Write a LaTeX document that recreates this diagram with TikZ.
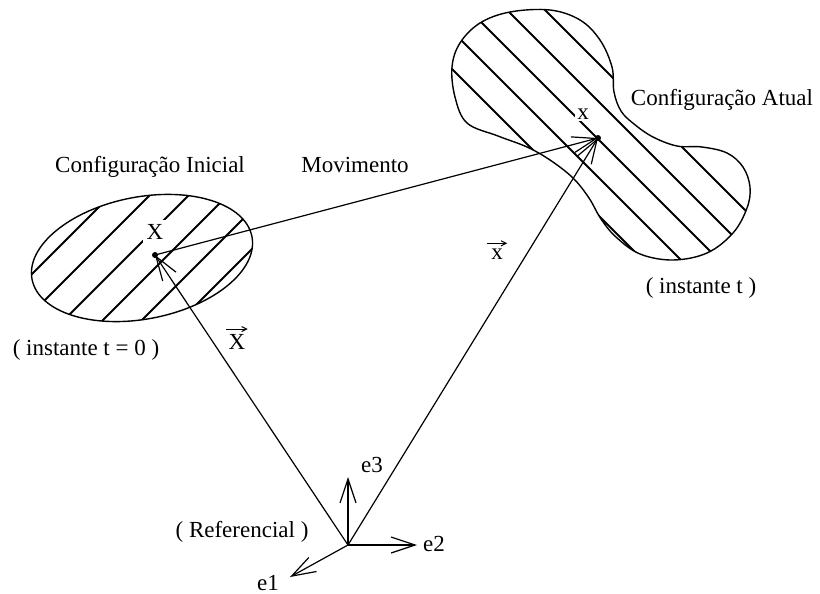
\documentclass[tikz,border=0pt]{standalone}
\usepackage{fontspec}
\setmainfont{Liberation Serif}
\usetikzlibrary{arrows.meta}

\newcommand{\peanutpath}{plot[smooth cycle, tension=0.6] coordinates {
    (510,12) (550,10) (580,20) (600,40) (612,67) (614,92) (621,111) (634,124)
    (653,137) (677,146) (702,147) (727,153) (743,167) (750,187) (747,208)
    (733,233) (707,253) (673,260) (640,254) (616,237) (601,219) (589,198)
    (573,178) (550,160) (527,147) (498,136) (467,123) (455,97) (452,67)
    (460,43) (480,23)}}

\begin{document}
\begin{tikzpicture}[
    x=0.5pt, y=-0.5pt,
    font=\fontsize{11.5}{14}\selectfont,
    outline/.style={line width=0.7pt},
    hatch/.style={line width=1pt},
    vec/.style={-{Straight Barb[length=12pt, width=8pt]}, line width=0.6pt},
    overarrow/.style={-{Straight Barb[length=2.5pt, width=2.5pt]}, line width=0.5pt},
    gap/.style={fill=white, inner sep=2pt}
]
    \useasboundingbox (0,0) rectangle (820,594);

    \coordinate (P0) at (155,255);
    \coordinate (Pt) at (598,138);
    \coordinate (O)  at (348,545);
    \coordinate (E1) at (290,577);
    \coordinate (E2) at (417,545);
    \coordinate (E3) at (348,477);

    % Initial configuration
    \begin{scope}
        \clip[rotate around={11:(142,258)}] (142,258) ellipse [x radius=112, y radius=61];
        \foreach \c in {306,345,...,501}
            \draw[hatch] (\c-350,350) -- (\c-150,150);
    \end{scope}
    \draw[outline, rotate around={11:(142,258)}] (142,258) ellipse [x radius=112, y radius=61];

    % Current configuration
    \begin{scope}
        \clip \peanutpath;
        \foreach \c in {383,421,...,536}
            \draw[hatch] (\c,0) -- (\c+320,320);
    \end{scope}
    \draw[outline] \peanutpath;

    \node[gap] (lX) at (155,232) {X};
    \node[gap, inner sep=1pt] (lx) at (583,114) {x};

    \draw[vec] (O) -- (P0);
    \draw[vec] (O) -- (Pt);
    \draw[vec] (P0) -- (Pt);
    \draw[vec] (O) -- (E1);
    \draw[vec] (O) -- (E2);
    \draw[vec] (O) -- (E3);
    \fill (P0) circle [radius=3];
    \fill (Pt) circle [radius=3];

    \node (ini)  at (150,167) {Configuração Inicial};
    \node (mov)  at (355,165) {Movimento};
    \node (atu)  at (722,100) {Configuração Atual};
    \node (t)    at (701,288) {( instante t )};
    \node (t0)   at (86,350)  {( instante t = 0 )};
    \node (ref)  at (242,532) {( Referencial )};
    \node[inner sep=0pt] (vX) at (237,342) {X};
    \node[inner sep=0pt] (vx) at (497,254) {x};
    \node (le1)  at (268,583) {e1};
    \node (le2)  at (434,544) {e2};
    \node (le3)  at (372,465) {e3};

    % vector arrows over the labels
    \draw[overarrow] ([xshift=-1pt, yshift=2.5pt]vX.north west) -- ([xshift=1pt, yshift=2.5pt]vX.north east);
    \draw[overarrow] ([xshift=-2pt, yshift=2.5pt]vx.north west) -- ([xshift=2pt, yshift=2.5pt]vx.north east);
\end{tikzpicture}
\end{document}
